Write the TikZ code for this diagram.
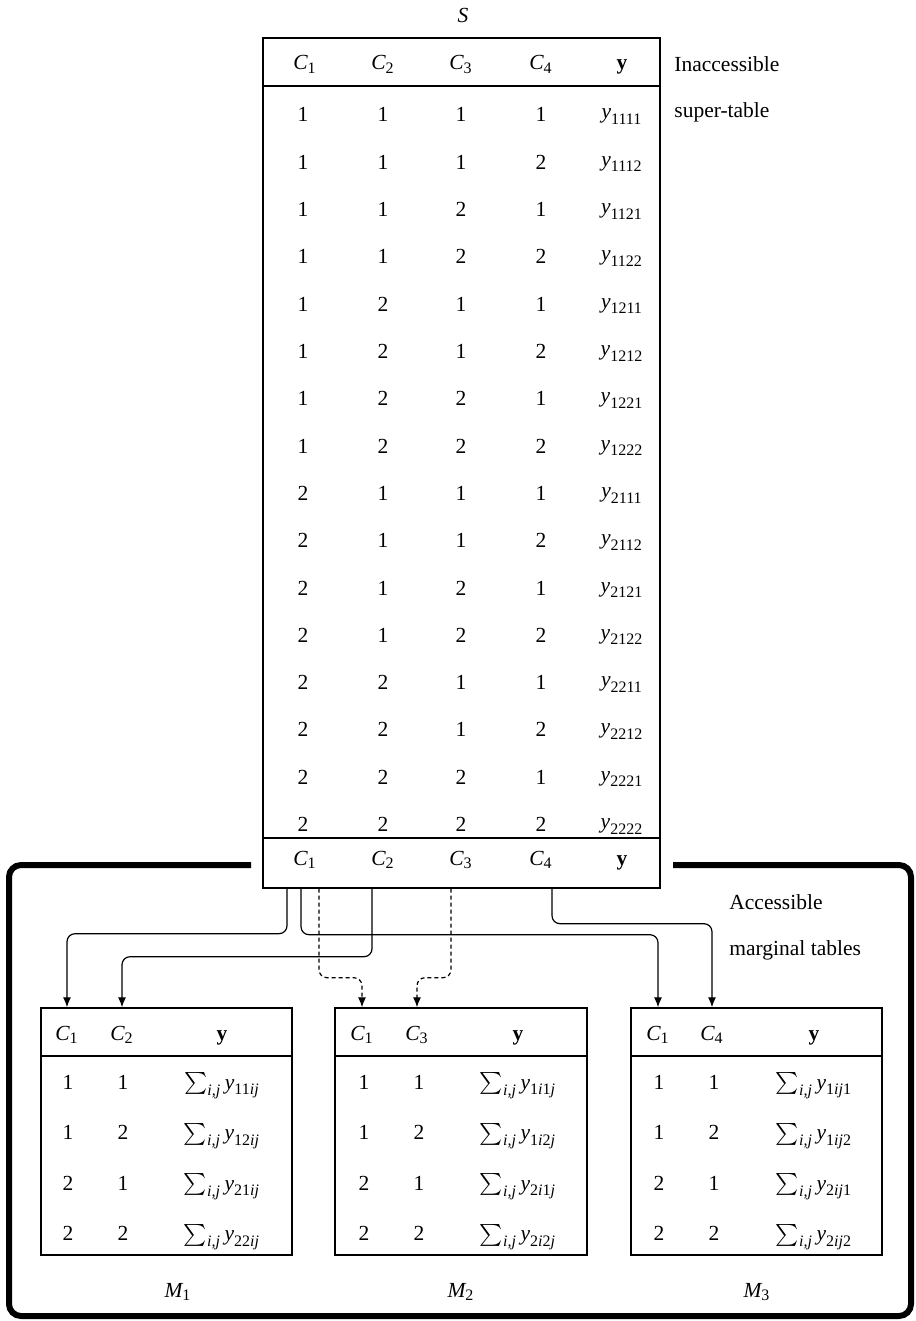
\documentclass[tikz,border=0pt]{standalone}
\usepackage{amsmath}
\usepackage{fontspec}
\setmainfont{Liberation Serif}
\DeclareMathSizes{10.75}{10.75}{8}{6}
\usetikzlibrary{arrows.meta,calc,fit}
\newcommand\itx[1]{\textit{#1}}
\newcommand\smy[1]{$\sum_{\itx{i,j}}\itx{y}_{#1}$}
\begin{document}
\begin{tikzpicture}[x=0.5pt,y=-0.5pt,
  every node/.style={font=\fontsize{10.75}{13}\selectfont},
  cell/.style={inner sep=0pt, anchor=base},
  tab/.style={draw, line width=0.7pt, inner sep=0pt},
  rule/.style={line width=0.8pt},
  conn/.style={line width=0.6pt, rounded corners=4pt, -{Latex[length=5pt,width=4pt]}},
  dconn/.style={conn, dash pattern=on 2pt off 1.5pt},
  frame/.style={line width=3pt, rounded corners=6pt}]
\useasboundingbox (0,0) rectangle (915,1321);

% ---------- super-table S ----------
\node[cell] (S) at (463,23) {$\itx{S}$};
\node[tab, fit={(263,38) (660,888)}] (ST) {};
\draw[rule] (263,86) -- (660,86);
\draw[rule] (263,838) -- (660,838);

\node[cell] (h1) at (305,70) {$\itx{C}_{\text{1}}$};
\node[cell] (h2) at (383,70) {$\itx{C}_{\text{2}}$};
\node[cell] (h3) at (461,70) {$\itx{C}_{\text{3}}$};
\node[cell] (h4) at (541,70) {$\itx{C}_{\text{4}}$};
\node[cell] (hy) at (622,70) {\textbf{y}};

\foreach \a/\b/\c/\d [count=\k from 0] in
 {1/1/1/1,1/1/1/2,1/1/2/1,1/1/2/2,1/2/1/1,1/2/1/2,1/2/2/1,1/2/2/2,
  2/1/1/1,2/1/1/2,2/1/2/1,2/1/2/2,2/2/1/1,2/2/1/2,2/2/2/1,2/2/2/2}{
  \pgfmathsetmacro\yy{122+47.3*\k}
  \pgfmathsetmacro\yz{\yy-3}
  \node[cell] (r\k-1) at (303,\yy) {\a};
  \node[cell] (r\k-2) at (383,\yy) {\b};
  \node[cell] (r\k-3) at (461,\yy) {\c};
  \node[cell] (r\k-4) at (541,\yy) {\d};
  \node[cell] (r\k-y) at (622,\yz) {$\itx{y}_{\text{\a\b\c\d}}$};
}

\node[cell] (f1) at (305,865) {$\itx{C}_{\text{1}}$};
\node[cell] (f2) at (383,865) {$\itx{C}_{\text{2}}$};
\node[cell] (f3) at (461,865) {$\itx{C}_{\text{3}}$};
\node[cell] (f4) at (541,865) {$\itx{C}_{\text{4}}$};
\node[cell] (fy) at (622,865) {\textbf{y}};

\node[cell, anchor=base west] (lab1) at (674,72) {Inaccessible};
\node[cell, anchor=base west] (lab2) at (674,118) {super-table};
\node[cell, anchor=base west] (lab3) at (729,909) {Accessible};
\node[cell, anchor=base west] (lab4) at (729,955) {marginal tables};

% ---------- frame ----------
\draw[frame] (251,865) -- (9,865) -- (9,1316) -- (911,1316) -- (911,865) -- (673,865);

% ---------- marginal tables ----------
\node[tab, fit={(41,1008) (292,1255)}] (M1) {};
\node[tab, fit={(335,1008) (587,1255)}] (M2) {};
\node[tab, fit={(631,1008) (882,1255)}] (M3) {};
\draw[rule] (41,1056) -- (292,1056);
\draw[rule] (335,1056) -- (587,1056);
\draw[rule] (631,1056) -- (882,1056);

\node[cell] (m1c1) at (67,1040) {$\itx{C}_{\text{1}}$};
\node[cell] (m1c2) at (122,1040) {$\itx{C}_{\text{2}}$};
\node[cell] (m1y) at (222,1040) {\textbf{y}};
\node[cell] (m2c1) at (362,1040) {$\itx{C}_{\text{1}}$};
\node[cell] (m2c3) at (417,1040) {$\itx{C}_{\text{3}}$};
\node[cell] (m2y) at (518,1040) {\textbf{y}};
\node[cell] (m3c1) at (658,1040) {$\itx{C}_{\text{1}}$};
\node[cell] (m3c4) at (712,1040) {$\itx{C}_{\text{4}}$};
\node[cell] (m3y) at (814,1040) {\textbf{y}};

\foreach \p/\q/\sa/\sb/\sc [count=\k from 0] in
 {1/1/{\text{11}\itx{ij}}/{\text{1}\itx{i}\text{1}\itx{j}}/{\text{1}\itx{ij}\text{1}},
  1/2/{\text{12}\itx{ij}}/{\text{1}\itx{i}\text{2}\itx{j}}/{\text{1}\itx{ij}\text{2}},
  2/1/{\text{21}\itx{ij}}/{\text{2}\itx{i}\text{1}\itx{j}}/{\text{2}\itx{ij}\text{1}},
  2/2/{\text{22}\itx{ij}}/{\text{2}\itx{i}\text{2}\itx{j}}/{\text{2}\itx{ij}\text{2}}}{
  \pgfmathsetmacro\yy{1089+50.5*\k}
  \node[cell] (a\k-1) at (68,\yy) {\p};
  \node[cell] (a\k-2) at (123,\yy) {\q};
  \node[cell] (a\k-y) at (222,\yy) {\smy{\sa}};
  \node[cell] (b\k-1) at (364,\yy) {\p};
  \node[cell] (b\k-2) at (419,\yy) {\q};
  \node[cell] (b\k-y) at (518,\yy) {\smy{\sb}};
  \node[cell] (c\k-1) at (659,\yy) {\p};
  \node[cell] (c\k-2) at (714,\yy) {\q};
  \node[cell] (c\k-y) at (814,\yy) {\smy{\sc}};
}

\node[cell] (L1) at (178,1297) {$\itx{M}_{\text{1}}$};
\node[cell] (L2) at (461,1297) {$\itx{M}_{\text{2}}$};
\node[cell] (L3) at (757,1297) {$\itx{M}_{\text{3}}$};

% ---------- connectors ----------
\coordinate (o1) at ($(f1 |- ST.south)+(-18,0)$);
\coordinate (o2) at ($(f1 |- ST.south)+(-4,0)$);
\coordinate (o3) at ($(f1 |- ST.south)+(14,0)$);
\coordinate (o4) at ($(f2 |- ST.south)+(-11,0)$);
\coordinate (o5) at ($(f3 |- ST.south)+(-10,0)$);
\coordinate (o6) at ($(f4 |- ST.south)+(11,0)$);

\draw[conn] (o1) -- ++(0,45) -| (m1c1 |- M1.north);
\draw[conn] (o2) -- ++(0,46) -| (m3c1 |- M3.north);
\draw[conn] (o4) -- ++(0,68) -| (m1c2 |- M1.north);
\draw[dconn] (o3) -- ++(0,89) -| (m2c1 |- M2.north);
\draw[dconn] (o5) -- ++(0,89) -| (m2c3 |- M2.north);
\draw[conn] (o6) -- ++(0,35) -| (m3c4 |- M3.north);
\end{tikzpicture}
\end{document}
